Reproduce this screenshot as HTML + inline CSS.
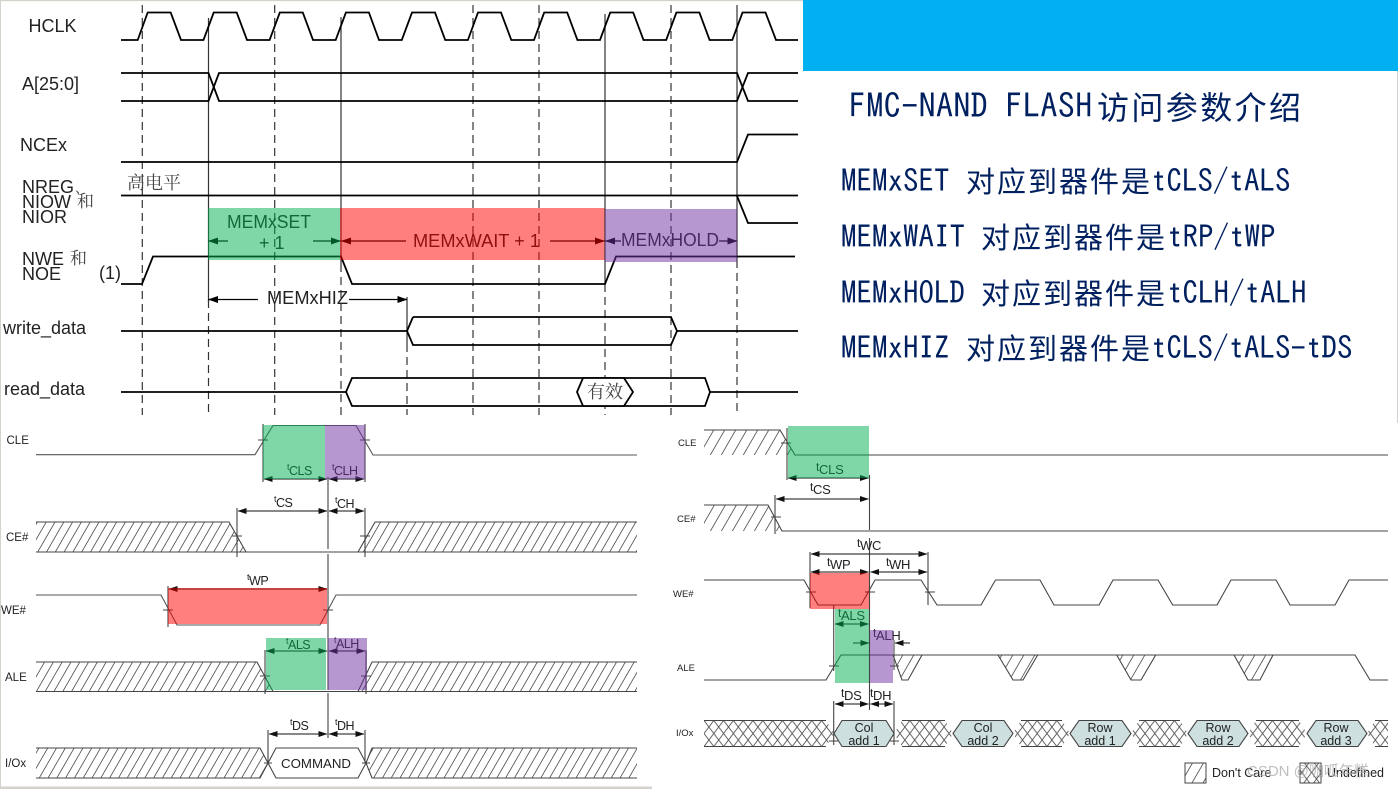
<!DOCTYPE html>
<html><head><meta charset="utf-8"><style>
html,body{margin:0;padding:0;background:#fff}
svg{display:block;position:absolute;left:0;top:0}
.s{font-family:"Liberation Sans",sans-serif}
.c{font-family:"Liberation Serif","Noto Serif CJK SC",serif}
.h{font-family:"IPAGothic",monospace;fill:#002060}
.z{font-family:"Noto Sans CJK SC",sans-serif;fill:#002060}
</style></head><body>
<svg width="1398" height="789" viewBox="0 0 1398 789" xmlns="http://www.w3.org/2000/svg">
<defs>
<pattern id="hl" patternUnits="userSpaceOnUse" width="8.8" height="30" patternTransform="skewX(-30)"><line x1="4.4" y1="0" x2="4.4" y2="30" stroke="#444" stroke-width=".9"/></pattern>
<pattern id="hr" patternUnits="userSpaceOnUse" width="11" height="30" patternTransform="skewX(-30)"><line x1="5" y1="0" x2="5" y2="30" stroke="#444" stroke-width=".9"/></pattern>
<pattern id="xh" patternUnits="userSpaceOnUse" width="9.8" height="13" y="720.5" x="704"><path d="M0 0L9.8 13M9.8 0L0 13" stroke="#555" stroke-width=".9" fill="none"/></pattern>
<marker id="a" markerUnits="userSpaceOnUse" markerWidth="9" markerHeight="6" refX="8.5" refY="3" orient="auto-start-reverse"><path d="M0 0L9 3L0 6Z" fill="#111"/></marker>
<marker id="b" markerUnits="userSpaceOnUse" markerWidth="10" markerHeight="7" refX="9.5" refY="3.5" orient="auto-start-reverse"><path d="M0 0L10 3.5L0 7Z" fill="#000"/></marker>
</defs>

<rect x="0" y="0" width="803" height="1.2" fill="#d5d2cc"/>
<rect x="0" y="0" width="1" height="789" fill="#d5d2cc"/>
<rect x="0" y="786.5" width="652" height="2.5" fill="#d5d2cc"/>
<rect x="1397" y="71" width="1" height="352" fill="#d5d2cc"/>

<g style="filter:blur(.35px)">
<!-- TOP DIAGRAM -->
<g stroke="#333" stroke-width="1.2" stroke-dasharray="8 5" fill="none">
<path d="M142.3 5V415M208.5 300V415M274.7 5V415M341 264V415M407 344V415M473 5V415M539 5V415M605 284V415M671 5V415M737 260V415"/>
</g>
<g stroke="#333" stroke-width="1.2" fill="none">
<path d="M208.5 18V302M341 17V264M407 297V344M605 14V284M737 5V260"/>
</g>
<g stroke="#000" stroke-width="1.8" fill="none" stroke-linejoin="miter">
<path d="M121 40H137.7L147.7 12.5H170.7L181 40H203.5L213.7 12.5H236.7L247 40H269.6L279.8 12.5H302.8L313 40H335.7L345.9 12.5H368.9L379 40H401.8L412 12.5H435L445.2 40H467.9L478 12.5H501L511.3 40H534L544.2 12.5H567.2L577.4 40H600L610.2 12.5H633.2L643.5 40H666.2L676.4 12.5H699.4L709.6 40H732.3L742.5 12.5H765.5L776 40H798"/>
<path d="M121 73H208.5L219 101H737L748 73H798"/>
<path d="M121 101H208.5L219 73H737L748 101H798"/>
<path d="M121 162H737L748 134.5H798"/>
<path d="M121 195.5H798"/>
<path d="M737 196L748 223H798"/>
<path d="M121 284H142L153 256.5H341L352 284H605L616 256.5H795"/>
<path d="M121 331H407M413 317H671L677 331H798M407 331L413 317M407 331L413 345H671L677 331"/>
<path d="M121 392H346L352 378H705L710 392H798M346 392L352 406H705L710 392"/>
</g>
<path d="M577 392L583 378H624L633 392L624 406H583Z" fill="#fff" stroke="#000" stroke-width="1.8"/>
<g class="s" font-size="18" fill="#222">
<text x="28.5" y="32" textLength="48" lengthAdjust="spacingAndGlyphs">HCLK</text>
<text x="22" y="90">A[25:0]</text>
<text x="20" y="151">NCEx</text>
<text x="22" y="193">NREG</text>
<text x="22" y="208">NIOW</text>
<text x="22" y="223">NIOR</text>
<text x="22" y="265">NWE</text>
<text x="22" y="280">NOE</text>
<text x="99" y="279">(1)</text>
<text x="3" y="334">write_data</text>
<text x="4" y="395">read_data</text>
<text x="227" y="228" textLength="84" lengthAdjust="spacingAndGlyphs">MEMxSET</text>
<text x="259" y="249">+ 1</text>
<text x="413" y="247" textLength="127" lengthAdjust="spacingAndGlyphs">MEMxWAIT + 1</text>
<text x="621" y="246" textLength="98" lengthAdjust="spacingAndGlyphs">MEMxHOLD</text>
<text x="267" y="304" textLength="81" lengthAdjust="spacingAndGlyphs">MEMxHIZ</text>
</g>
<g class="c" fill="#444" font-size="18">
<text x="127" y="189">高电平</text>
<text x="77" y="207" font-size="17">和</text>
<text x="70" y="264" font-size="17">和</text>
<text x="587" y="398">有效</text>
<text x="75" y="193" font-size="14">、</text>
</g>
<g stroke="#000" stroke-width="1.3" fill="none">
<path d="M228 241H208.5" marker-end="url(#b)"/>
<path d="M313 241H340.5" marker-end="url(#b)"/>
<path d="M406 241H341.5" marker-end="url(#b)"/>
<path d="M550 241H604.5" marker-end="url(#b)"/>
<path d="M621 241H605.5" marker-end="url(#b)"/>
<path d="M719 241H737" marker-end="url(#b)"/>
<path d="M258 299.5H208.5" marker-end="url(#b)"/>
<path d="M349 299.5H407" marker-end="url(#b)"/>
</g>

<!-- BOTTOM LEFT -->
<g stroke="#555" stroke-width="1.1" fill="none">
<path d="M36 454.7H255L273 425.5H356L373 455H637"/>
<path d="M36 595H161L177 625H320L336 595H637"/>
</g>
<path d="M36 522H229L246 552H36Z" fill="url(#hl)"/>
<path d="M375 522H637V552H358Z" fill="url(#hl)"/>
<path d="M36 662H257L273 691.5H36Z" fill="url(#hl)"/>
<path d="M372 662H637V691.5H358Z" fill="url(#hl)"/>
<path d="M36 748H260L268 763L260 778H36Z" fill="url(#hl)"/>
<path d="M372 748H637V778H372L366 763Z" fill="url(#hl)"/>
<g stroke="#444" stroke-width="1.1" fill="none">
<path d="M36 522H229L246 552H358L375 522H637M36 552H637"/>
<path d="M36 662H257L273 691.5H358L372 662H637M36 691.5H637"/>
<path d="M36 748H260L268 763L260 778H36M637 748H372L366 763L372 778H637"/>
<path d="M268 763L276 748H358L366 763L358 778H276Z"/>
<path d="M263 424V482M365 424V482M237 508V557M365 508V557M168 586V627M265 650V694M366 650V694M268 730V763M365 730V763"/>
<path d="M328 477V549M328 554V690M328 693V738"/>
<path d="M258 440H268M360 440H370M232 536H242M360 536H370M163 610H173M323 610H333M260 676H270M361 676H371M264 763H272M362 763H370"/>
</g>
<g stroke="#111" stroke-width="1" fill="none">
<path d="M264 479H327" marker-start="url(#a)" marker-end="url(#a)"/>
<path d="M329 479H364" marker-start="url(#a)" marker-end="url(#a)"/>
<path d="M238 511H327" marker-start="url(#a)" marker-end="url(#a)"/>
<path d="M329 511H364" marker-start="url(#a)" marker-end="url(#a)"/>
<path d="M169 589H327" marker-start="url(#a)" marker-end="url(#a)"/>
<path d="M266 651H327" marker-start="url(#a)" marker-end="url(#a)"/>
<path d="M329 651H365" marker-start="url(#a)" marker-end="url(#a)"/>
<path d="M269 734H327" marker-start="url(#a)" marker-end="url(#a)"/>
<path d="M329 734H364" marker-start="url(#a)" marker-end="url(#a)"/>
</g>
<g class="s" font-size="11.5" fill="#222">
<text x="6.5" y="444">CLE</text>
<text x="6" y="541">CE#</text>
<text x="1" y="614">WE#</text>
<text x="5" y="681">ALE</text>
<text x="5" y="767">I/Ox</text>
</g>
<g class="s" fill="#222" font-size="12.5" letter-spacing="-.5">
<text x="287" y="475"><tspan font-size="9" dy="-5">t</tspan><tspan dy="5">CLS</tspan></text>
<text x="332" y="475"><tspan font-size="9" dy="-5">t</tspan><tspan dy="5">CLH</tspan></text>
<text x="274" y="507"><tspan font-size="9" dy="-5">t</tspan><tspan dy="5">CS</tspan></text>
<text x="335" y="508"><tspan font-size="9" dy="-5">t</tspan><tspan dy="5">CH</tspan></text>
<text x="247" y="585"><tspan font-size="9" dy="-5">t</tspan><tspan dy="5">WP</tspan></text>
<text x="286" y="649"><tspan font-size="9" dy="-5">t</tspan><tspan dy="5">ALS</tspan></text>
<text x="334" y="648"><tspan font-size="9" dy="-5">t</tspan><tspan dy="5">ALH</tspan></text>
<text x="290" y="730"><tspan font-size="9" dy="-5">t</tspan><tspan dy="5">DS</tspan></text>
<text x="335" y="730"><tspan font-size="9" dy="-5">t</tspan><tspan dy="5">DH</tspan></text>
<text x="281" y="768" font-size="12.5" letter-spacing="0" textLength="70" lengthAdjust="spacingAndGlyphs">COMMAND</text>
</g>

<!-- BOTTOM RIGHT -->
<path d="M704 430H780L795 455H704Z" fill="url(#hr)"/>
<path d="M704 505H768L782 531H704Z" fill="url(#hr)"/>
<path d="M893 655H922L908 680H902Z" fill="url(#hr)"/>
<path d="M998 655H1037.7L1023 680H1013Z" fill="url(#hr)"/>
<path d="M1116.7 655H1155.7L1141 680H1131Z" fill="url(#hr)"/>
<path d="M1234 655H1273L1260 680H1248Z" fill="url(#hr)"/>
<g fill="url(#xh)">
<path d="M704 720.5H826L834 733.5L826 746.5H704Z"/>
<path d="M894 733.5L902 720.5H945L953 733.5L945 746.5H902Z"/>
<path d="M1013 733.5L1021 720.5H1062L1070 733.5L1062 746.5H1021Z"/>
<path d="M1131 733.5L1139 720.5H1180L1188 733.5L1180 746.5H1139Z"/>
<path d="M1248 733.5L1256 720.5H1299L1307 733.5L1299 746.5H1256Z"/>
<path d="M1367 733.5L1375 720.5H1388V746.5H1375Z"/>
</g>
<g stroke="#444" stroke-width="1.1" fill="#cde0df">
<path d="M834 733.5L842 720.5H886L894 733.5L886 746.5H842Z"/>
<path d="M953 733.5L962 720.5H1004L1013 733.5L1004 746.5H962Z"/>
<path d="M1070 733.5L1079 720.5H1122L1131 733.5L1122 746.5H1079Z"/>
<path d="M1188 733.5L1197 720.5H1239L1248 733.5L1239 746.5H1197Z"/>
<path d="M1307 733.5L1316 720.5H1358L1367 733.5L1358 746.5H1316Z"/>
</g>
<g stroke="#444" stroke-width="1.1" fill="none">
<path d="M704 720.5H826M704 746.5H826M902 720.5H945M902 746.5H945M1021 720.5H1062M1021 746.5H1062M1139 720.5H1180M1139 746.5H1180M1256 720.5H1299M1256 746.5H1299M1375 720.5H1388M1375 746.5H1388"/>
<path d="M704 430H780L795 455H1388"/>
<path d="M704 505H768L782 531H1388"/>
<path d="M704 580H804L818 605H861L875 580H921L937 605H981L995.5 580H1040L1054 605H1099L1113 580H1158L1172.7 605H1217L1231 580H1276L1290 605H1335L1349 580H1388"/>
<path d="M704 680H826L841 655H1355L1370 680H1388"/>
<path d="M893 655L902 680H908L922 655M998 655L1013 680H1023L1037.7 655M1116.7 655L1131 680H1141L1155.7 655M1234 655L1248 680H1260L1273 655"/>
<path d="M787 428V480M775 495V534M810 552V608M928 552V605M833.7 605V671M894 640V670M833.7 701V745M894 701V745"/>
<path d="M869.5 475V530M869.5 538V710"/>
<path d="M781 443H791M771 517H781M806 592H816M925 592H935M865 592H875M829 666H839M890 666H899M829 741H838M890 741H899"/>
</g>
<g stroke="#111" stroke-width="1" fill="none">
<path d="M788 478H868.5" marker-start="url(#a)" marker-end="url(#a)"/>
<path d="M776 499H868.5" marker-start="url(#a)" marker-end="url(#a)"/>
<path d="M811 554H927" marker-start="url(#a)" marker-end="url(#a)"/>
<path d="M811 572H868.5" marker-start="url(#a)" marker-end="url(#a)"/>
<path d="M870.5 572H927" marker-start="url(#a)" marker-end="url(#a)"/>
<path d="M835 624H868.5" marker-start="url(#a)" marker-end="url(#a)"/>
<path d="M853 643H869" marker-end="url(#a)"/>
<path d="M910 643H895" marker-end="url(#a)"/>
<path d="M835 704H868.5" marker-start="url(#a)" marker-end="url(#a)"/>
<path d="M870.5 704H893" marker-start="url(#a)" marker-end="url(#a)"/>
</g>
<g class="s" font-size="9.5" fill="#222">
<text x="678" y="446">CLE</text>
<text x="677" y="522">CE#</text>
<text x="673" y="597">WE#</text>
<text x="677" y="671">ALE</text>
<text x="676" y="736">I/Ox</text>
</g>
<g class="s" fill="#222" font-size="13" letter-spacing="-.3">
<text x="816" y="474"><tspan font-size="12" dy="-3">t</tspan><tspan dy="3">CLS</tspan></text>
<text x="810" y="494"><tspan font-size="12" dy="-3">t</tspan><tspan dy="3">CS</tspan></text>
<text x="857" y="550"><tspan font-size="12" dy="-3">t</tspan><tspan dy="3">WC</tspan></text>
<text x="827" y="569"><tspan font-size="12" dy="-3">t</tspan><tspan dy="3">WP</tspan></text>
<text x="886" y="569"><tspan font-size="12" dy="-3">t</tspan><tspan dy="3">WH</tspan></text>
<text x="838" y="620"><tspan font-size="12" dy="-3">t</tspan><tspan dy="3">ALS</tspan></text>
<text x="873" y="640"><tspan font-size="12" dy="-3">t</tspan><tspan dy="3">ALH</tspan></text>
<text x="841" y="700"><tspan font-size="12" dy="-3">t</tspan><tspan dy="3">DS</tspan></text>
<text x="870" y="700"><tspan font-size="12" dy="-3">t</tspan><tspan dy="3">DH</tspan></text>
</g>
<g class="s" fill="#222" font-size="12.5" text-anchor="middle">
<text x="864" y="732">Col</text><text x="864" y="745">add 1</text>
<text x="983" y="732">Col</text><text x="983" y="745">add 2</text>
<text x="1100" y="732">Row</text><text x="1100" y="745">add 1</text>
<text x="1218" y="732">Row</text><text x="1218" y="745">add 2</text>
<text x="1336" y="732">Row</text><text x="1336" y="745">add 3</text>
</g>
<rect x="1185" y="763" width="21" height="20" fill="url(#hr)" stroke="#444" stroke-width="1"/>
<rect x="1300" y="763" width="21" height="20" fill="url(#xh)" stroke="#444" stroke-width="1"/>
<g class="s" fill="#222" font-size="12.5">
<text x="1212" y="777">Don't Care</text>
<text x="1327" y="777">Undefined</text>
</g>
<text x="1247" y="776" font-size="15" fill="#aaa" fill-opacity=".75" style="font-family:'Liberation Sans','Noto Sans CJK SC',sans-serif">CSDN @咖呱年糕</text>

<!-- OVERLAYS -->
<g fill-opacity=".5">
<rect x="208" y="208" width="132" height="52" fill="#00b050"/>
<rect x="340" y="208" width="264.5" height="52" fill="#ff0000"/>
<rect x="605" y="209" width="132" height="53" fill="#7030a0"/>
<rect x="263" y="425" width="62" height="54" fill="#00b050"/>
<rect x="325" y="425" width="40" height="54" fill="#7030a0"/>
<rect x="168" y="588" width="159" height="36" fill="#ff0000"/>
<rect x="266" y="638" width="60" height="52" fill="#00b050"/>
<rect x="328" y="638" width="39" height="52" fill="#7030a0"/>
<rect x="788" y="426" width="81" height="52" fill="#00b050"/>
<rect x="810" y="573" width="59" height="36" fill="#ff0000"/>
<rect x="835" y="609" width="34" height="74" fill="#00b050"/>
<rect x="870" y="630" width="23" height="53" fill="#7030a0"/>
</g>
</g>

<!-- RIGHT PANEL -->
<rect x="803" y="0" width="595" height="71" fill="#00b0f0"/>
<text class="h" x="849" y="118" font-size="34" letter-spacing=".4">FMC-NAND FLASH</text>
<text class="z" x="1097" y="119" font-size="32" letter-spacing="2.4">访问参数介绍</text>

<text class="h" x="841" y="192" font-size="31">MEMxSET</text>
<text class="z" x="966" y="192" font-size="29" letter-spacing="2">对应到器件是</text>
<text class="h" x="1151" y="192" font-size="31">tCLS/tALS</text>

<text class="h" x="841" y="248" font-size="31">MEMxWAIT</text>
<text class="z" x="981" y="248" font-size="29" letter-spacing="2">对应到器件是</text>
<text class="h" x="1167" y="248" font-size="31">tRP/tWP</text>

<text class="h" x="841" y="304" font-size="31">MEMxHOLD</text>
<text class="z" x="981" y="304" font-size="29" letter-spacing="2">对应到器件是</text>
<text class="h" x="1167" y="304" font-size="31">tCLH/tALH</text>

<text class="h" x="841" y="359" font-size="31">MEMxHIZ</text>
<text class="z" x="966" y="359" font-size="29" letter-spacing="2">对应到器件是</text>
<text class="h" x="1151" y="359" font-size="31">tCLS/tALS-tDS</text>
</svg>
</body></html>
